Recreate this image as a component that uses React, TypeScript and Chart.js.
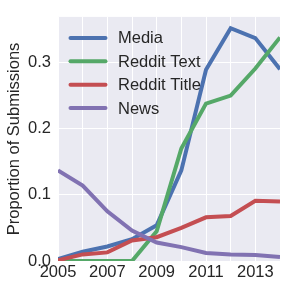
import React, { useEffect, useRef } from 'react';
import { Chart, registerables } from 'chart.js';

Chart.register(...registerables);

const years = [2005, 2006, 2007, 2008, 2009, 2010, 2011, 2012, 2013, 2014];
const media = [0.003, 0.014, 0.022, 0.033, 0.054, 0.137, 0.289, 0.352, 0.337, 0.29];
const redditText = [0.0, 0.0, 0.0, 0.0, 0.045, 0.17, 0.238, 0.25, 0.291, 0.338];
const redditTitle = [0.001, 0.01, 0.013, 0.031, 0.036, 0.05, 0.066, 0.068, 0.091, 0.09];
const news = [0.137, 0.114, 0.075, 0.046, 0.028, 0.021, 0.012, 0.01, 0.009, 0.006];

const seriesNames = ['Media', 'Reddit Text', 'Reddit Title', 'News'];
const seriesColors = ['#4C72B0', '#55A868', '#C44E52', '#8172B2'];
const yTicks = [0, 0.1, 0.2, 0.3];
const xLabelYears = [2005, 2007, 2009, 2011, 2013];

const FONT = "'Liberation Sans', Arial, sans-serif";
const TEXT = '#262626';
const FS = 16.5;

const legendPlugin = {
  id: 'insideLegend',
  afterDatasetsDraw(chart: any) {
    const ctx = chart.ctx;
    const area = chart.chartArea;
    ctx.save();
    ctx.font = `${FS}px ${FONT}`;
    ctx.textBaseline = 'middle';
    ctx.textAlign = 'left';
    seriesNames.forEach((name, i) => {
      const y = area.top + 21 + i * 23.4;
      const x0 = area.left + 12.5;
      ctx.strokeStyle = seriesColors[i];
      ctx.lineWidth = 4;
      ctx.lineCap = 'round';
      ctx.beginPath();
      ctx.moveTo(x0, y);
      ctx.lineTo(x0 + 35, y);
      ctx.stroke();
      ctx.fillStyle = TEXT;
      ctx.fillText(name, x0 + 47.5, y + 1);
    });
    ctx.restore();
  },
};

const bgPlugin = {
  id: 'plotBg',
  beforeDraw(chart: any) {
    const { ctx, chartArea } = chart;
    ctx.save();
    ctx.fillStyle = '#EAEAF2';
    ctx.fillRect(chartArea.left, chartArea.top, chartArea.right - chartArea.left, chartArea.bottom - chartArea.top);
    ctx.restore();
  },
};

export default function App() {
  const ref = useRef<HTMLCanvasElement | null>(null);
  useEffect(() => {
    if (!ref.current) return;
    const all = [media, redditText, redditTitle, news];
    const chart = new Chart(ref.current, {
      type: 'line',
      data: {
        datasets: all.map((vals, i) => ({
          label: seriesNames[i],
          data: years.map((yr, j) => ({ x: yr, y: vals[j] })),
          borderColor: seriesColors[i],
          backgroundColor: seriesColors[i],
          borderWidth: 4,
          pointRadius: 0,
          tension: 0,
          fill: false,
          order: 4 - i,
        })),
      },
      options: {
        animation: false,
        responsive: false,
        maintainAspectRatio: false,
        devicePixelRatio: 1,
        layout: { padding: { left: 0, right: 0, top: 10, bottom: 0 } },
        plugins: {
          legend: { display: false },
          tooltip: { enabled: false },
        },
        scales: {
          x: {
            type: 'linear',
            min: 2005,
            max: 2014,
            afterBuildTicks: (scale: any) => {
              scale.ticks = years.map((v) => ({ value: v }));
            },
            afterFit: (scale: any) => {
              scale.height = 20;
            },
            ticks: {
              autoSkip: false,
              maxRotation: 0,
              padding: 2,
              color: TEXT,
              font: { family: FONT, size: FS },
              callback: (v: any) => (xLabelYears.includes(Number(v)) ? String(v) : ''),
            },
            grid: { color: '#ffffff', lineWidth: 1, drawTicks: false },
            border: { display: false },
          },
          y: {
            min: 0,
            max: 0.369,
            afterBuildTicks: (scale: any) => {
              scale.ticks = yTicks.map((v) => ({ value: v }));
            },
            afterFit: (scale: any) => {
              scale.width = 58;
            },
            ticks: {
              padding: 7,
              color: TEXT,
              font: { family: FONT, size: FS },
              callback: (v: any) => Number(v).toFixed(1),
            },
            title: {
              display: true,
              text: 'Proportion of Submissions',
              color: TEXT,
              font: { family: FONT, size: FS },
              padding: { top: 5, bottom: 0 },
            },
            grid: { color: '#ffffff', lineWidth: 1, drawTicks: false },
            border: { display: false },
          },
        },
      },
      plugins: [bgPlugin, legendPlugin],
    });
    return () => chart.destroy();
  }, []);
  return (
    <div style={{ position: 'fixed', left: 0, top: 0, width: 282, height: 281, background: '#fff' }}>
      <canvas ref={ref} width={282} height={281} style={{ width: 282, height: 281, display: 'block' }} />
    </div>
  );
}
